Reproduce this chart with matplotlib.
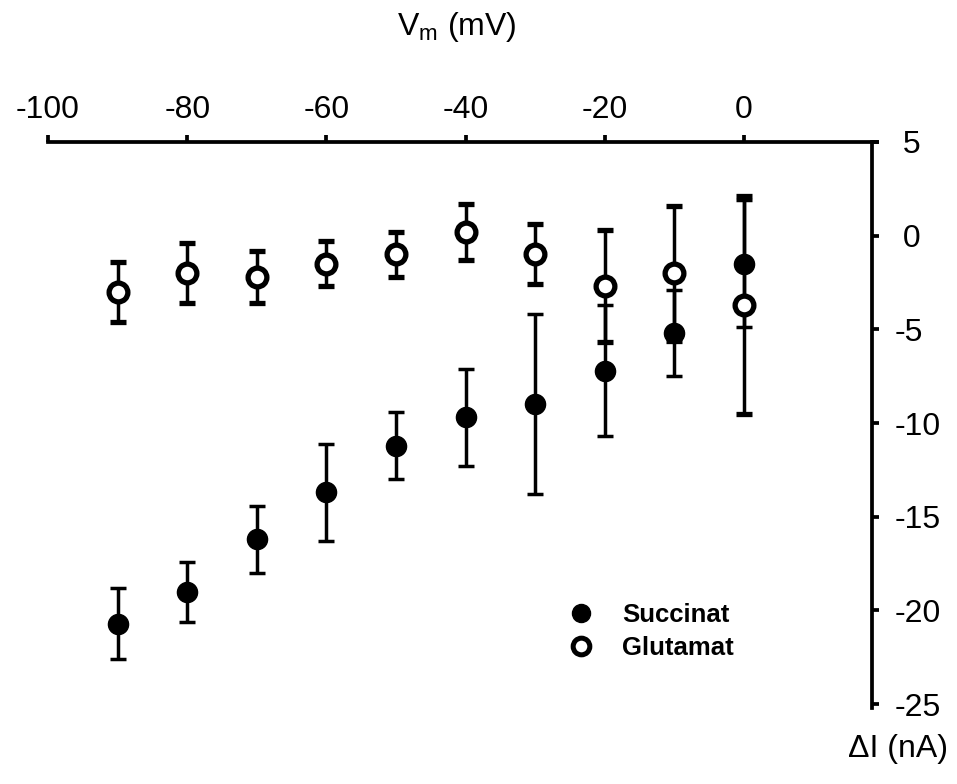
import matplotlib.pyplot as plt
from matplotlib.lines import Line2D
import numpy as np

plt.rcParams['font.family'] = ['Liberation Sans', 'DejaVu Sans']
plt.rcParams['axes.unicode_minus'] = False

# membrane potential steps (mV)
vm = [-90, -80, -70, -60, -50, -40, -30, -20, -10, 0]

# current change (nA), mean and error
succinat = [-20.7, -19.0, -16.2, -13.7, -11.2, -9.7, -9.0, -7.2, -5.2, -1.5]
succinat_err = [1.9, 1.6, 1.8, 2.6, 1.8, 2.6, 4.8, 3.5, 2.3, 3.4]
glutamat = [-3.0, -2.0, -2.2, -1.5, -1.0, 0.2, -1.0, -2.7, -2.0, -3.7]
glutamat_err = [1.6, 1.6, 1.4, 1.2, 1.2, 1.5, 1.6, 3.0, 3.6, 5.8]

xticks = [-100, -80, -60, -40, -20, 0]
yticks = [-25, -20, -15, -10, -5, 0, 5]
# positive labels get a leading space so digits line up with "-5"
ylabels = ['-25', '-20', '-15', '-10', '-5', ' 0', ' 5']

fig = plt.figure(figsize=(9.57, 7.84), dpi=100)
ax = fig.add_axes((0.0502, 0.097, 0.8662, 0.722))

lw = 2.5
ax.errorbar(vm, succinat, yerr=succinat_err, fmt='o', ms=14.5, color='black',
            mfc='black', mec='black', elinewidth=lw, capsize=6, capthick=lw,
            clip_on=False, zorder=3)
ax.errorbar(vm, glutamat, yerr=glutamat_err, fmt='o', ms=13.5, color='black',
            mfc='white', mec='black', mew=3.8, elinewidth=lw, capsize=6,
            capthick=lw, clip_on=False, zorder=4)

ax.set_xlim(-100, 19.1)
ax.set_ylim(-25.2, 5)

# axes drawn on top and right
for side in ('bottom', 'left'):
    ax.spines[side].set_visible(False)
ax.spines['top'].set_linewidth(2.7)
ax.spines['right'].set_linewidth(2.7)
ax.spines['right'].set_position(('data', 18.4))

ax.xaxis.tick_top()
ax.yaxis.tick_right()
ax.set_xticks(xticks)
ax.set_yticks(yticks, ylabels)
ax.tick_params(axis='both', direction='out', length=5, width=2.7, labelsize=23)
ax.tick_params(axis='x', pad=7)
ax.tick_params(axis='y', pad=11)

fig.text(0.477, 0.965, r'V$_{\mathregular{m}}$ (mV)', ha='center', va='center', fontsize=23)
fig.text(0.938, 0.045, '\u0394I (nA)', ha='center', va='center', fontsize=23)

handles = [
    Line2D([], [], ls='none', marker='o', ms=13, mfc='black', mec='black'),
    Line2D([], [], ls='none', marker='o', ms=12, mfc='white', mec='black', mew=3.6),
]
ax.legend(handles, ['Succinat', 'Glutamat'], frameon=False, loc='center left',
          bbox_to_anchor=(0.6, 0.135), handlelength=1.0, handletextpad=1.1,
          labelspacing=0.35, prop={'weight': 'bold', 'size': 18.5})

fig.savefig('out.png', dpi=100)
